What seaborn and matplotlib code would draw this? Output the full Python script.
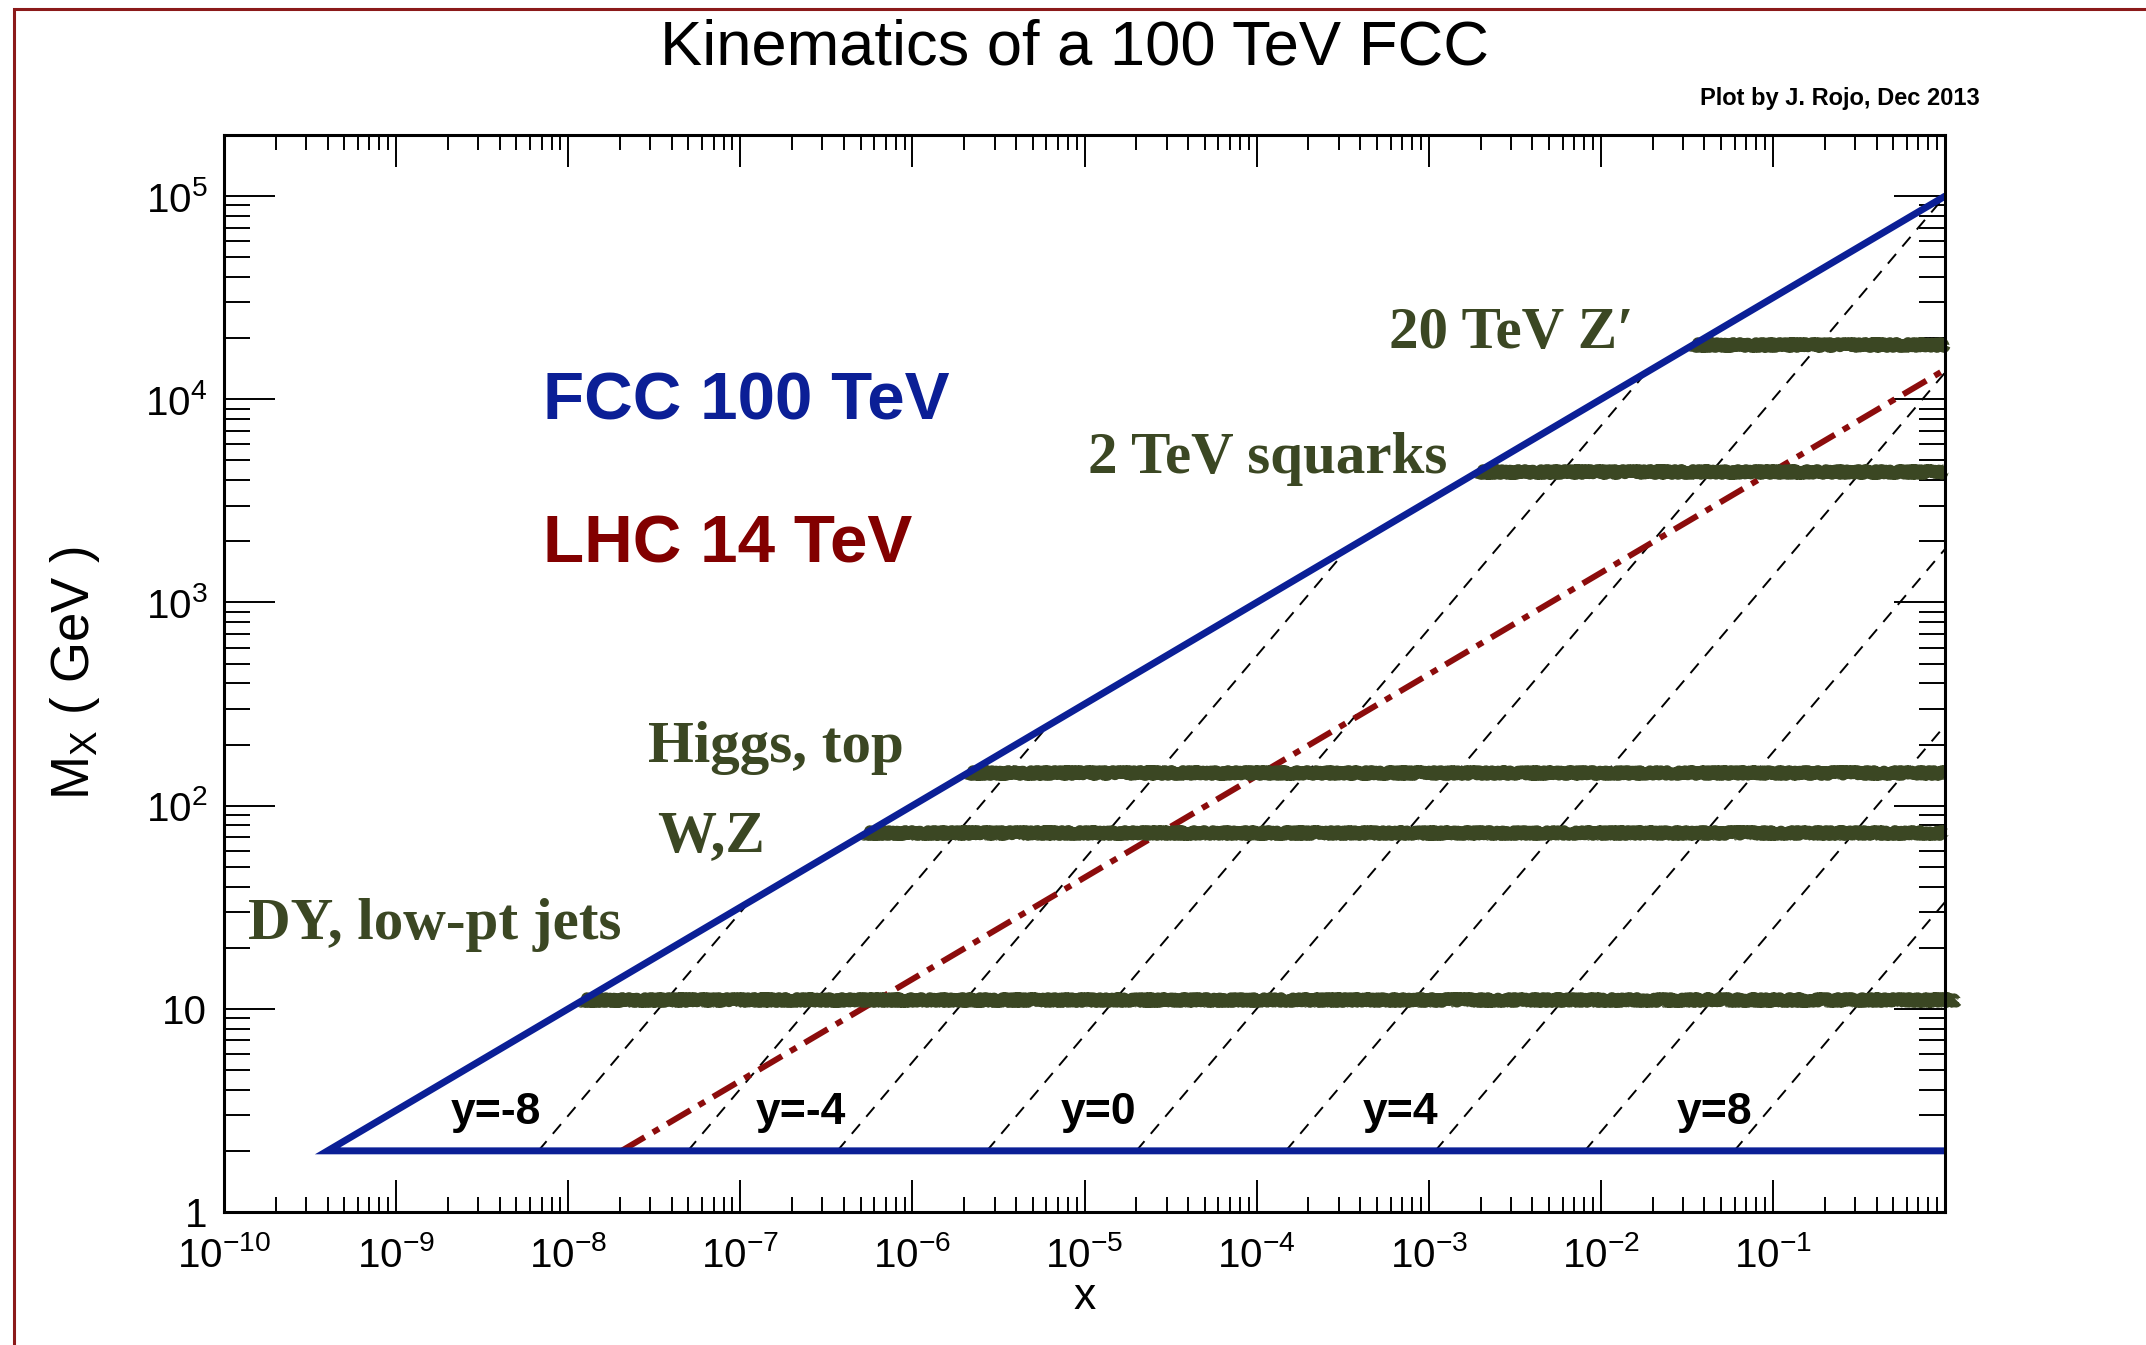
import numpy as np
import pandas as pd
import matplotlib
matplotlib.use("Agg")
import matplotlib.pyplot as plt
from matplotlib.ticker import FixedLocator, FixedFormatter, NullFormatter
from matplotlib.patches import Rectangle
import seaborn as sns

# ---------------------------------------------------------------- inputs
sqrt_s_fcc = 1.0e5      # GeV
sqrt_s_lhc = 1.4e4      # GeV
m_min = 2.0             # GeV, lower edge of the mass range
x_max = 1.0

rapidities = [-8, -6, -4, -2, 0, 2, 4, 6, 8]
rap_label_values = [-8, -4, 0, 4, 8]
rap_label_x = [3.8e-9, 2.25e-7, 1.2e-5, 6.9e-4, 4.6e-2]
rap_label_m = 3.1

process_names = ["DY, low-pt jets", "W,Z", "Higgs, top", "2 TeV squarks", "20 TeV Z\u2032"]
process_masses = [11.0, 73.0, 145.0, 4400.0, 18500.0]
process_x_end = [1.17, 1.0, 1.0, 1.0, 1.0]
process_label_x = [1.38e-10, 3.3e-8, 2.9e-8, 1.05e-5, 5.9e-4]
process_label_m = [26.0, 70.0, 193.0, 5100.0, 21000.0]

x_tick_exponents = list(range(-10, 1))
y_tick_exponents = list(range(0, 6))

# ---------------------------------------------------------------- style
BLUE = "#0b1f96"
RED_LINE = "#8c0c0c"
RED_TEXT = "#820000"
GREEN = "#3b4723"

sns.set_theme(style="ticks")
plt.rcParams["font.family"] = ["Liberation Sans", "DejaVu Sans"]
plt.rcParams["mathtext.fontset"] = "custom"
plt.rcParams["mathtext.rm"] = "Liberation Sans"
plt.rcParams["mathtext.it"] = "Liberation Sans:italic"
plt.rcParams["mathtext.bf"] = "Liberation Sans:bold"
plt.rcParams["axes.linewidth"] = 2.2
for key in ("text.color", "axes.labelcolor", "xtick.color", "ytick.color",
            "xtick.labelcolor", "ytick.labelcolor", "axes.edgecolor"):
    plt.rcParams[key] = "black"

W, H = 2146, 1345
fig = plt.figure(figsize=(W / 100, H / 100), dpi=100)
ax = fig.add_axes([224 / W, 1 - 1212 / H, (1945 - 224) / W, (1212 - 135) / H])

# ---------------------------------------------------------------- curves
# FCC kinematic boundary: M = sqrt(s x) and the M = m_min floor
x_lo = (m_min / sqrt_s_fcc) ** 2
boundary = pd.DataFrame({
    "x": [x_max, x_lo, x_max],
    "M": [sqrt_s_fcc * np.sqrt(x_max), m_min, m_min],
})

# Lines of fixed rapidity: M = x sqrt(s) exp(-y), up to the boundary
rows = []
for y in rapidities:
    x0 = m_min / sqrt_s_fcc * np.exp(y)
    x1 = min(np.exp(2 * y), x_max)
    rows.append({"rap": y, "x": x0, "M": m_min})
    rows.append({"rap": y, "x": x1, "M": sqrt_s_fcc * x1 * np.exp(-y)})
rap_df = pd.DataFrame(rows)

sns.lineplot(data=rap_df, x="x", y="M", units="rap", estimator=None,
             sort=False, color="black", lw=1.4, linestyle=(0, (6.5, 5)), ax=ax)

# LHC 14 TeV reach
x_lhc = (m_min / sqrt_s_lhc) ** 2
lhc = pd.DataFrame({"x": [x_lhc, x_max], "M": [m_min, sqrt_s_lhc * np.sqrt(x_max)]})
sns.lineplot(data=lhc, x="x", y="M", estimator=None, sort=False, color=RED_LINE,
             lw=4.3, linestyle=(0, (4.5, 1.6, 1.2, 1.6)), ax=ax)

# Typical final-state masses, starting on the FCC boundary
for m, xe in zip(process_masses, process_x_end):
    band = pd.DataFrame({"x": [(m / sqrt_s_fcc) ** 2, xe], "M": [m, m]})
    sns.lineplot(data=band, x="x", y="M", estimator=None, sort=False,
                 color=GREEN, lw=8.5, solid_capstyle="butt", ax=ax)
    for off in (0.965, 1.035):
        edge = pd.DataFrame({"x": [(m * off / sqrt_s_fcc) ** 2, xe], "M": [m * off, m * off]})
        sns.lineplot(data=edge, x="x", y="M", estimator=None, sort=False,
                     color=GREEN, lw=2.0, alpha=0.8, ax=ax)
for ln in ax.lines[-15:]:
    ln.set_sketch_params(scale=2.0, length=3.0, randomness=6.0)
    ln.set_clip_on(False)

sns.lineplot(data=boundary, x="x", y="M", estimator=None, sort=False,
             color=BLUE, lw=5.0, solid_joinstyle="miter", ax=ax)

# ---------------------------------------------------------------- axes
ax.set_xscale("log")
ax.set_yscale("log")
ax.set_xlim(1e-10, 1.0)
ax.set_ylim(1.0, 2.0e5)

x_major = [10.0 ** e for e in x_tick_exponents]
x_labels = [r"$10^{%d}$" % e if e < 0 else "" for e in x_tick_exponents]
ax.xaxis.set_major_locator(FixedLocator(x_major))
ax.xaxis.set_major_formatter(FixedFormatter(x_labels))
ax.xaxis.set_minor_locator(FixedLocator(
    [k * 10.0 ** e for e in x_tick_exponents[:-1] for k in range(2, 10)]))
ax.xaxis.set_minor_formatter(NullFormatter())

y_major = [10.0 ** e for e in y_tick_exponents]
y_labels = ["1", "10"] + [r"$10^{%d}$" % e for e in y_tick_exponents[2:]]
ax.yaxis.set_major_locator(FixedLocator(y_major))
ax.yaxis.set_major_formatter(FixedFormatter(y_labels))
ax.yaxis.set_minor_locator(FixedLocator(
    [k * 10.0 ** e for e in y_tick_exponents for k in range(2, 10)]))
ax.yaxis.set_minor_formatter(NullFormatter())

ax.tick_params(which="both", direction="in", top=True, right=True,
               color="black", width=1.4, labelcolor="black")
ax.tick_params(axis="x", which="major", length=23, labelsize=29, pad=17)
ax.tick_params(axis="x", which="minor", length=11)
ax.tick_params(axis="y", which="major", length=37, labelsize=29, pad=12)
ax.tick_params(axis="y", which="minor", length=18.5)
for s in ax.spines.values():
    s.set_color("black")
    s.set_zorder(5)

ax.set_xlabel("x", fontsize=32, color="black")
ax.xaxis.set_label_coords(0.5, -0.06)
ax.set_ylabel(r"M$_{\mathrm{X}}$ ( GeV )", fontsize=38, color="black")
ax.yaxis.set_label_coords(-0.071, 0.5)

# ---------------------------------------------------------------- text
ax.text(7.1e-9, 9700, "FCC 100 TeV", color=BLUE, fontsize=48.5,
        fontweight="bold", ha="left", va="center")
ax.text(7.1e-9, 1900, "LHC 14 TeV", color=RED_TEXT, fontsize=48.5,
        fontweight="bold", ha="left", va="center")

for name, lx, lm in zip(process_names, process_label_x, process_label_m):
    ax.text(lx, lm, name, color=GREEN, fontsize=42.5, fontweight="bold",
            family=["Liberation Serif", "DejaVu Serif"], ha="left", va="center")

for yv, lx in zip(rap_label_values, rap_label_x):
    ax.text(lx, rap_label_m, "y=%d" % yv, color="black", fontsize=32,
            fontweight="bold", ha="center", va="center")

fig.text(1075 / W, 1 - 48 / H, "Kinematics of a 100 TeV FCC",
         fontsize=45.5, ha="center", va="center", color="black")
fig.text(1980 / W, 1 - 99 / H, "Plot by J. Rojo, Dec 2013",
         fontsize=17, fontweight="bold", ha="right", va="center", color="black")

# page frame
fig.add_artist(Rectangle((14 / W, -0.2), 1.3, 1.2 - 9 / H,
                         transform=fig.transFigure, fill=False,
                         edgecolor="#8b1a1a", lw=2.2))

fig.savefig("out.png", dpi=100)
